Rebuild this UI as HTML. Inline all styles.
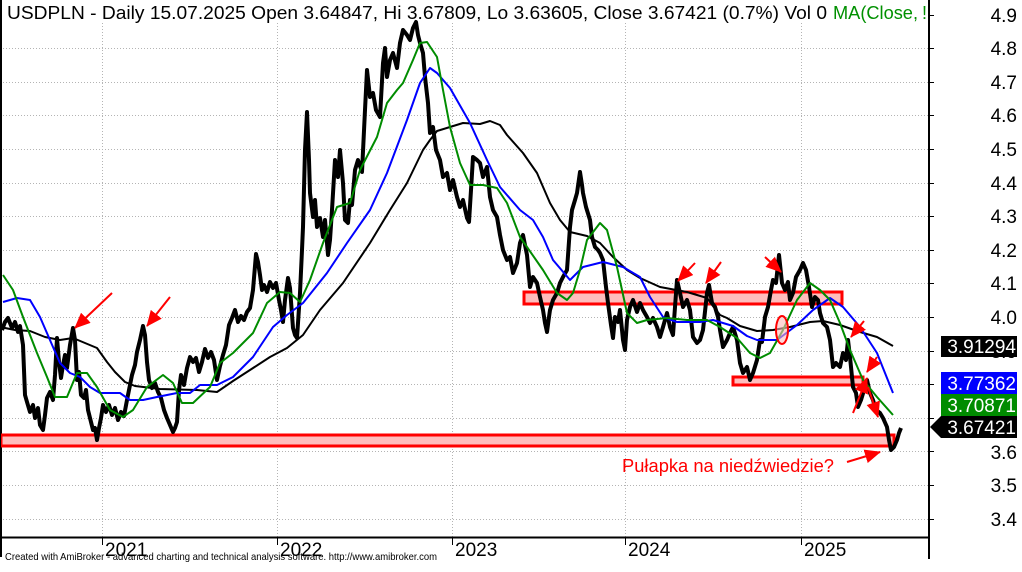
<!DOCTYPE html>
<html><head><meta charset="utf-8"><style>
html,body{margin:0;padding:0;background:#fff;}
svg{display:block;}
text{font-family:"Liberation Sans",Arial,sans-serif;}
</style></head><body>
<svg width="1022" height="572" viewBox="0 0 1022 572" xmlns="http://www.w3.org/2000/svg">
<defs>
<marker id="ah" markerWidth="16" markerHeight="14" refX="15" refY="7" orient="auto" markerUnits="userSpaceOnUse"><path d="M0,0 L16,7 L0,14 z" fill="#ff0000"/></marker>
<clipPath id="plot"><rect x="1" y="0" width="928" height="537"/></clipPath>
<clipPath id="ttl"><rect x="0" y="0" width="926" height="30"/></clipPath>
</defs>
<rect width="1022" height="572" fill="#fff"/>
<!-- gridlines -->
<g stroke="#b4b4b4" stroke-width="1" stroke-dasharray="1,2">
<line x1="0" x2="929" y1="48.5" y2="48.5"/><line x1="0" x2="929" y1="82.5" y2="82.5"/><line x1="0" x2="929" y1="115.5" y2="115.5"/><line x1="0" x2="929" y1="149.5" y2="149.5"/><line x1="0" x2="929" y1="183.5" y2="183.5"/><line x1="0" x2="929" y1="216.5" y2="216.5"/><line x1="0" x2="929" y1="250.5" y2="250.5"/><line x1="0" x2="929" y1="283.5" y2="283.5"/><line x1="0" x2="929" y1="317.5" y2="317.5"/><line x1="0" x2="929" y1="351.5" y2="351.5"/><line x1="0" x2="929" y1="384.5" y2="384.5"/><line x1="0" x2="929" y1="418.5" y2="418.5"/><line x1="0" x2="929" y1="451.5" y2="451.5"/><line x1="0" x2="929" y1="485.5" y2="485.5"/><line x1="0" x2="929" y1="519.5" y2="519.5"/>
<line x1="102.5" x2="102.5" y1="23" y2="537"/><line x1="277.5" x2="277.5" y1="23" y2="537"/><line x1="452.5" x2="452.5" y1="23" y2="537"/><line x1="625.5" x2="625.5" y1="23" y2="537"/><line x1="801.5" x2="801.5" y1="23" y2="537"/>
</g>
<!-- axes -->
<g stroke="#000" stroke-width="2" fill="none">
<line x1="1" y1="0" x2="1" y2="557"/>
<line x1="929" y1="0" x2="929" y2="559"/>
<line x1="0" y1="537.5" x2="929" y2="537.5"/>
</g>
<g stroke="#000" stroke-width="1">
<line x1="102.5" x2="102.5" y1="537" y2="545"/><line x1="277.5" x2="277.5" y1="537" y2="545"/><line x1="452.5" x2="452.5" y1="537" y2="545"/><line x1="625.5" x2="625.5" y1="537" y2="545"/><line x1="801.5" x2="801.5" y1="537" y2="545"/>
<line x1="929" x2="934" y1="15.5" y2="15.5"/><line x1="929" x2="934" y1="48.5" y2="48.5"/><line x1="929" x2="934" y1="82.5" y2="82.5"/><line x1="929" x2="934" y1="115.5" y2="115.5"/><line x1="929" x2="934" y1="149.5" y2="149.5"/><line x1="929" x2="934" y1="183.5" y2="183.5"/><line x1="929" x2="934" y1="216.5" y2="216.5"/><line x1="929" x2="934" y1="250.5" y2="250.5"/><line x1="929" x2="934" y1="283.5" y2="283.5"/><line x1="929" x2="934" y1="317.5" y2="317.5"/><line x1="929" x2="934" y1="351.5" y2="351.5"/><line x1="929" x2="934" y1="384.5" y2="384.5"/><line x1="929" x2="934" y1="418.5" y2="418.5"/><line x1="929" x2="934" y1="451.5" y2="451.5"/><line x1="929" x2="934" y1="485.5" y2="485.5"/><line x1="929" x2="934" y1="519.5" y2="519.5"/>
</g>
<!-- right labels -->
<g font-size="19" fill="#000" text-anchor="end">
<text x="1017" y="22">4.9</text><text x="1017" y="55">4.8</text><text x="1017" y="89">4.7</text><text x="1017" y="122">4.6</text><text x="1017" y="156">4.5</text><text x="1017" y="190">4.4</text><text x="1017" y="223">4.3</text><text x="1017" y="257">4.2</text><text x="1017" y="290">4.1</text><text x="1017" y="324">4.0</text><text x="1017" y="358">3.9</text><text x="1017" y="459">3.6</text><text x="1017" y="492">3.5</text><text x="1017" y="526">3.4</text>
</g>
<!-- year labels -->
<g font-size="19" fill="#000">
<text x="105" y="556">2021</text><text x="280" y="556">2022</text><text x="455" y="556">2023</text><text x="628" y="556">2024</text><text x="804" y="556">2025</text>
</g>
<text x="5" y="560" font-size="10.5" fill="#000" textLength="432" lengthAdjust="spacingAndGlyphs">Created with AmiBroker - advanced charting and technical analysis software. http://www.amibroker.com</text>
<!-- title -->
<g clip-path="url(#ttl)" font-size="18">
<text x="7" y="19" fill="#000" textLength="820" lengthAdjust="spacingAndGlyphs">USDPLN - Daily 15.07.2025 Open 3.64847, Hi 3.67809, Lo 3.63605, Close 3.67421 (0.7%) Vol 0</text>
<text x="833" y="19" fill="#009000" textLength="85" lengthAdjust="spacingAndGlyphs">MA(Close,</text>
<text x="922" y="19" fill="#009000">!</text>
</g>
<g clip-path="url(#plot)">
<!-- bands -->
<g fill="#ffbdbd" stroke="#ff0000" stroke-width="3">
<rect x="1" y="435" width="893" height="11"/>
<rect x="524" y="292" width="318" height="12"/>
<rect x="733" y="377" width="130" height="8"/>
</g>
<!-- price -->
<polyline fill="none" stroke="#000" stroke-width="4" stroke-linejoin="round" points="2,330 5,322 8,318 12,328 15,322 18,332 20,326 23,345 25,395 27,402 30,412 33,405 35,418 38,408 40,425 43,430 45,415 47,398 50,392 53,400 55,375 57,338 59,362 61,378 63,365 65,355 67,368 70,345 73,328 75,340 77,380 79,372 81,395 84,398 86,390 88,410 91,422 93,430 95,428 97,440 99,428 101,418 103,405 106,412 109,405 112,415 115,408 118,420 121,412 124,416 127,400 130,385 132,375 135,365 137,352 140,340 143,326 145,335 147,362 149,380 152,388 155,383 158,392 161,398 164,410 167,418 170,425 173,432 175,428 177,422 179,390 181,375 184,385 187,368 190,357 193,362 196,358 199,372 202,362 205,349 208,358 211,352 214,360 217,380 220,366 223,355 226,345 229,325 232,318 235,310 238,322 241,316 244,320 247,312 250,308 253,290 256,254 258,262 260,275 262,290 264,285 267,292 270,282 273,288 276,283 279,300 281,310 283,322 285,300 288,278 290,288 293,328 295,335 297,338 300,293 302,250 303,227 305,150 307,112 309,160 310,193 313,217 315,200 317,227 320,218 323,237 325,220 328,255 330,240 332,210 335,160 338,177 340,150 343,183 345,220 348,223 350,200 352,205 355,170 358,160 362,172 365,110 367,70 370,97 373,93 376,110 380,117 383,63 385,48 387,77 390,60 393,53 397,68 400,43 403,30 407,35 410,40 413,28 416,22 418,35 420,43 423,53 425,77 428,103 430,133 433,127 436,150 440,160 443,177 447,173 450,190 453,180 457,197 460,207 463,200 467,218 469,222 471,190 473,157 477,160 480,163 483,177 487,167 490,197 493,210 497,217 500,235 503,250 507,260 510,257 513,273 517,263 520,243 523,235 527,255 530,287 533,277 537,283 540,297 543,310 545,323 547,332 549,317 550,310 553,300 557,293 560,283 563,277 567,270 570,227 572,210 575,200 577,193 580,172 582,185 583,193 586,207 590,220 592,237 595,247 598,250 600,253 603,260 606,287 608,303 611,325 613,338 615,317 618,322 620,310 623,340 625,350 627,320 630,307 633,300 637,312 640,303 643,310 647,317 650,323 653,318 657,327 660,337 663,327 667,313 670,327 673,335 675,307 677,280 680,293 683,307 687,300 690,310 693,337 697,343 700,340 703,330 707,293 709,285 712,303 715,307 718,317 720,330 723,347 727,340 730,333 733,327 737,340 740,363 743,373 747,367 750,380 753,373 757,360 760,340 762,342 765,317 768,307 771,290 773,280 776,283 779,255 782,283 785,290 788,282 790,300 793,293 796,277 800,270 803,263 806,270 809,287 812,307 815,297 818,300 820,313 823,323 827,327 830,340 833,367 836,363 840,367 843,353 846,360 848,340 850,357 853,387 856,393 858,407 861,400 864,390 867,380 870,393 873,400 876,410 880,413 883,418 887,427 889,440 891,450 894,447 897,440 899,433 901,428"/>
<!-- MAs -->
<polyline fill="none" stroke="#000" stroke-width="2" stroke-linejoin="round" points="0,327 15,330 30,331 45,337 60,340 73,338 85,343 97,348 107,362 115,372 125,382 135,386 160,389 197,390 217,392 233,381 250,370 270,357 287,348 303,335 320,310 343,283 370,243 390,210 407,183 423,150 430,140 437,131 450,127 463,123 480,124 490,121 500,125 507,135 523,153 537,173 550,203 560,220 570,232 587,236 600,243 613,257 627,270 640,278 660,287 687,292 707,298 720,315 727,318 740,326 757,331 773,330 790,327 810,322 823,321 840,325 860,332 877,337 893,346"/>
<polyline fill="none" stroke="#0000ff" stroke-width="2" stroke-linejoin="round" points="3,302 17,298 30,300 40,317 53,347 60,363 70,373 80,377 90,387 100,393 120,393 130,400 143,400 157,397 177,393 190,393 200,385 217,385 233,377 253,357 273,327 287,315 303,303 327,273 347,243 370,210 387,173 407,120 420,83 430,68 437,73 450,88 470,123 487,160 500,187 520,210 533,220 543,237 553,260 570,280 583,267 603,262 623,267 640,277 650,297 663,317 677,322 700,322 713,320 733,326 747,336 757,340 777,340 797,325 813,310 830,298 843,307 860,327 877,353 893,393"/>
<polyline fill="none" stroke="#008c00" stroke-width="2" stroke-linejoin="round" points="3,275 13,290 23,317 37,353 47,377 55,397 67,397 77,373 87,373 97,387 110,410 123,417 133,410 147,387 163,375 173,383 182,403 193,403 210,387 220,363 233,353 253,333 267,303 280,292 290,293 300,302 310,280 323,243 337,207 350,203 360,170 377,137 387,103 397,90 403,83 413,60 420,43 427,42 437,57 443,90 450,127 460,163 470,185 483,185 497,188 507,203 520,237 527,247 543,270 557,293 567,300 573,293 580,270 587,240 600,223 607,230 617,267 627,313 637,323 647,320 667,318 687,320 707,320 720,327 737,338 750,353 760,358 770,353 783,330 797,300 810,283 820,290 830,300 840,323 850,350 863,380 877,397 893,415"/>
<!-- ellipse -->
<ellipse cx="782" cy="330" rx="6" ry="14" fill="#ffbdbd" fill-opacity="0.6" stroke="#ff0000" stroke-width="2"/>
<!-- arrows -->
<g stroke="#ff0000" stroke-width="2" marker-end="url(#ah)">
<line x1="112" y1="293" x2="75" y2="328"/>
<line x1="170" y1="297" x2="147" y2="326"/>
<line x1="695" y1="263" x2="678" y2="281"/>
<line x1="721" y1="262" x2="706" y2="283"/>
<line x1="765" y1="257" x2="781" y2="272"/>
<line x1="864" y1="321" x2="851" y2="337"/>
<line x1="877" y1="357" x2="867" y2="372"/>
<line x1="853" y1="413" x2="867" y2="378"/>
<line x1="868" y1="387" x2="878" y2="417"/>
<line x1="847" y1="462" x2="880" y2="452"/>
</g>
</g>
<text x="622" y="472" font-size="18" fill="#ff0000" textLength="212" lengthAdjust="spacingAndGlyphs">Pułapka na niedźwiedzie?</text>
<!-- value boxes -->
<rect x="941" y="336" width="76" height="21" fill="#000"/>
<rect x="941" y="372" width="76" height="22" fill="#0000ff"/>
<rect x="941" y="394" width="76" height="22" fill="#008c00"/>
<polygon points="930,427 941,416 1017,416 1017,438 941,438" fill="#000"/>
<g font-size="19" fill="#fff" text-anchor="end">
<text x="1016" y="353">3.91294</text>
<text x="1016" y="390">3.77362</text>
<text x="1016" y="412">3.70871</text>
<text x="1016" y="434">3.67421</text>
</g>
</svg>
</body></html>
